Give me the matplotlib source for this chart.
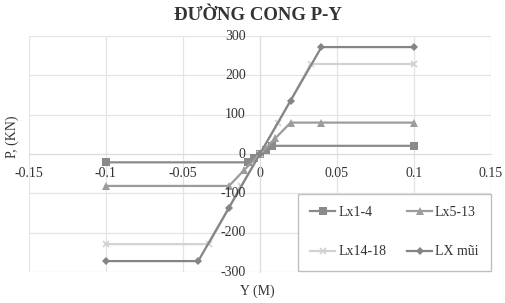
import matplotlib.pyplot as plt
import matplotlib.transforms as mtransforms
import numpy as np

plt.rcParams['font.family'] = ['Liberation Serif', 'DejaVu Serif']

title = "ĐƯỜNG CONG P-Y"
series_names = ["Lx1-4", "Lx5-13", "Lx14-18", "LX mũi"]

y_lx1 = [-0.1, -0.008, -0.004, 0, 0.004, 0.008, 0.1]
p_lx1 = [-21, -21, -10, 0, 10, 21, 21]

y_lx5 = [-0.1, -0.02, -0.01, 0, 0.01, 0.02, 0.04, 0.1]
p_lx5 = [-81, -81, -40, 0, 40, 80, 80, 80]

y_lx14 = [-0.1, -0.033, -0.012, 0, 0.012, 0.033, 0.1]
p_lx14 = [-229, -229, -80, 0, 80, 229, 229]

y_mui = [-0.1, -0.04, -0.02, 0, 0.02, 0.04, 0.1]
p_mui = [-272, -272, -136, 0, 136, 272, 272]

x_ticks = [-0.15, -0.1, -0.05, 0, 0.05, 0.1, 0.15]
x_tick_labels = ["-0.15", "-0.1", "-0.05", "0", "0.05", "0.1", "0.15"]
y_ticks = [-300, -200, -100, 0, 100, 200, 300]

if __name__ == "__main__":
    fig = plt.figure(figsize=(5.05, 3.03), dpi=100)
    ax = fig.add_axes([0.057, 0.102, 0.915, 0.779])

    styles = [("#8a8a8a", "s", 6), ("#9c9c9c", "^", 6),
              ("#d2d2d2", "x", 5), ("#858585", "D", 4)]
    data = [(y_lx1, p_lx1), (y_lx5, p_lx5), (y_lx14, p_lx14), (y_mui, p_mui)]
    handles = []
    for (xs, ps), name, (color, marker, ms) in zip(data, series_names, styles):
        h, = ax.plot(xs, ps, color=color, lw=1.6, marker=marker, ms=ms,
                     mew=1.2 if marker == "x" else 0, label=name, zorder=3)
        handles.append(h)

    ax.set_xlim(-0.15, 0.15)
    ax.set_ylim(-300, 300)
    ax.set_xticks(x_ticks)
    ax.set_xticklabels(x_tick_labels)
    ax.set_yticks(y_ticks)
    ax.grid(True, color="#e4e4e4", lw=0.9, zorder=0)

    for side in ["top", "right"]:
        ax.spines[side].set_visible(False)
    ax.spines["left"].set_position("zero")
    ax.spines["bottom"].set_position("zero")
    ax.spines["left"].set_color("#dcdcdc")
    ax.spines["bottom"].set_color("#dcdcdc")
    ax.tick_params(length=0, labelsize=10, colors="#333333")
    ax.tick_params(axis="x", pad=9)
    ax.tick_params(axis="y", labelleft=False)
    for lab in ax.get_xticklabels():
        lab.set_zorder(5)

    # y tick labels sit just left of the x=0 axis
    ylab_tr = mtransforms.offset_copy(ax.transData, fig=fig, x=-14, y=0,
                                      units="dots")
    for v in y_ticks:
        ax.text(0, v, str(v), transform=ylab_tr, ha="right", va="center",
                fontsize=10, color="#333333", zorder=5)

    fig.text(0.51, 0.95, title, ha="center", va="center", fontsize=13.5,
             fontweight="bold", color="#333333")
    fig.text(0.024, 0.55, "P, (KN)", rotation=90, ha="center", va="center",
             fontsize=10, color="#333333")
    fig.text(0.51, 0.04, "Y (M)", ha="center", va="center", fontsize=10,
             color="#333333")

    order = [0, 2, 1, 3]
    ax.legend([handles[i] for i in order], [series_names[i] for i in order],
              ncol=2, loc="lower right", bbox_to_anchor=(1.0, 0.005),
              fontsize=10, frameon=True, fancybox=False, edgecolor="#bfbfbf",
              framealpha=1, handlelength=1.8, handletextpad=0.2,
              columnspacing=1.5, labelspacing=1.9, borderpad=0.9,
              borderaxespad=0, labelcolor="#333333")

    fig.savefig("out.png", dpi=100)
